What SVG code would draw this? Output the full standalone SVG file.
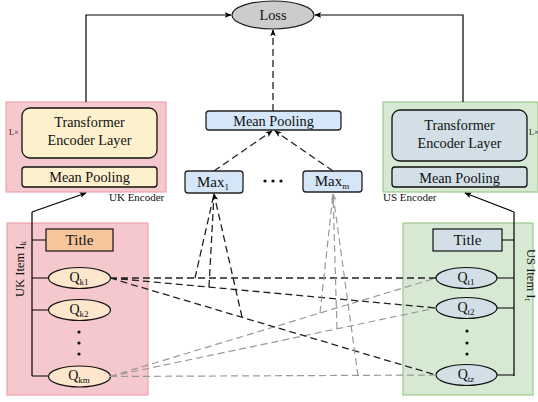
<svg xmlns="http://www.w3.org/2000/svg" width="538" height="402" viewBox="0 0 538 402" font-family="'Liberation Serif', 'DejaVu Serif', serif">
<defs>
<marker id="ab" viewBox="0 0 10 10" refX="9" refY="5" markerWidth="7" markerHeight="7" orient="auto" markerUnits="userSpaceOnUse"><path d="M0,1 L10,5 L0,9 L2.5,5 Z" fill="#000"/></marker>
<marker id="ag" viewBox="0 0 10 10" refX="9" refY="5" markerWidth="7" markerHeight="7" orient="auto" markerUnits="userSpaceOnUse"><path d="M0,1 L10,5 L0,9 L2.5,5 Z" fill="#999"/></marker>
</defs>
<style>
text{font-family:'Liberation Serif','DejaVu Serif',serif;fill:#111;}
.t14{font-size:14.2px;text-anchor:middle;}
.mp{font-size:14.3px;text-anchor:middle;}
.t11{font-size:11px;}
.sub{font-size:9px;}
.q{font-size:14px;text-anchor:middle;}
.ln{fill:none;stroke:#000;stroke-width:1.2;}
.db{fill:none;stroke:#222;stroke-width:1.3;stroke-dasharray:7 4;}
.dg{fill:none;stroke:#999;stroke-width:1.2;stroke-dasharray:7 4;}
.pink{fill:#f4c8cc;stroke:#eba3aa;stroke-width:1.2;}
.green{fill:#d6e9d3;stroke:#9cc98a;stroke-width:1.2;}
.yel{fill:#fdf0cd;stroke:#111;stroke-width:1.3;}
.bg{fill:#d2dfe6;stroke:#111;stroke-width:1.3;}
.blue{fill:#d4e6f8;stroke:#222;stroke-width:1.3;}
.orn{fill:#f7c59b;stroke:#111;stroke-width:1.2;}
.eu{fill:#fde6cc;stroke:#111;stroke-width:1.2;}
.es{fill:#d2dfe6;stroke:#111;stroke-width:1.2;}
</style>

<g id="uk-encoder">
<rect class="pink" x="6" y="102" width="160" height="90"/>
<rect class="yel" x="22" y="108" width="135" height="50" rx="8"/>
<text class="t14" x="89.5" y="127">Transformer</text>
<text class="t14" x="89.5" y="145">Encoder Layer</text>
<rect class="yel" x="22" y="167" width="135" height="20" rx="3"/>
<text class="mp" x="89.5" y="182">Mean Pooling</text>
<text x="9" y="135" style="font-size:8px">L×</text>
<text class="t11" x="109" y="201">UK Encoder</text>
</g>

<g id="us-encoder">
<rect class="green" x="383" y="102" width="155" height="90"/>
<rect class="bg" x="392" y="110" width="135" height="51" rx="8"/>
<text class="t14" x="459.5" y="130">Transformer</text>
<text class="t14" x="459.5" y="148">Encoder Layer</text>
<rect class="bg" x="392" y="167" width="135" height="20" rx="3"/>
<text class="mp" x="459.5" y="182.5">Mean Pooling</text>
<text x="529" y="135" style="font-size:8px">L×</text>
<text class="t11" x="383" y="201">US Encoder</text>
</g>

<g id="loss">
<ellipse cx="273" cy="15" rx="41" ry="14" fill="#cccccc" stroke="#222" stroke-width="1.2"/>
<text class="mp" x="273" y="20">Loss</text>
</g>

<g id="mean-pooling">
<rect class="blue" x="206" y="111" width="135" height="19" rx="3"/>
<text class="mp" x="273.5" y="125.5">Mean Pooling</text>
</g>

<g id="max1">
<rect class="blue" x="185" y="171" width="58" height="22" rx="3"/>
<text x="213" y="187" style="font-size:15px;text-anchor:middle">Max<tspan class="sub" dy="3">1</tspan></text>
</g>
<g id="maxm">
<rect class="blue" x="303" y="171" width="59" height="21" rx="3"/>
<text x="332" y="186" style="font-size:15px;text-anchor:middle">Max<tspan class="sub" dy="3">m</tspan></text>
</g>
<g id="ellipsis">
<circle cx="265" cy="181" r="1.6" fill="#111"/>
<circle cx="273" cy="181" r="1.6" fill="#111"/>
<circle cx="281" cy="181" r="1.6" fill="#111"/>
</g>

<g id="uk-item">
<rect class="pink" x="7" y="223" width="141" height="172"/>
<text transform="translate(24,269) rotate(-90)" style="font-size:12.5px;text-anchor:middle">UK Item I<tspan class="sub" dy="2">k</tspan></text>
<path class="ln" d="M32,212 V376 M32,240 H46 M32,278 H48 M32,310 H48 M32,376 H48"/>
<rect class="orn" x="46" y="229" width="67" height="22"/>
<text x="79.5" y="245" style="font-size:15px;text-anchor:middle">Title</text>
<g id="qk1"><ellipse class="eu" cx="79.5" cy="278" rx="31" ry="10.5"/><text class="q" x="79" y="282">Q<tspan class="sub" dy="3">k1</tspan></text></g>
<g id="qk2"><ellipse class="eu" cx="79.5" cy="310" rx="31" ry="10.5"/><text class="q" x="79" y="314">Q<tspan class="sub" dy="3">k2</tspan></text></g>
<circle cx="79" cy="332" r="1.6" fill="#111"/>
<circle cx="79" cy="343" r="1.6" fill="#111"/>
<circle cx="79" cy="354" r="1.6" fill="#111"/>
<g id="qkm"><ellipse class="eu" cx="79.5" cy="376.5" rx="31" ry="10.5"/><text class="q" x="79" y="380">Q<tspan class="sub" dy="3">km</tspan></text></g>
</g>

<g id="us-item">
<rect class="green" x="403" y="223" width="130" height="172"/>
<text transform="translate(527,275) rotate(90)" style="font-size:12.5px;text-anchor:middle">US Item I<tspan class="sub" dy="2">t</tspan></text>
<path class="ln" d="M514,212 V376 M514,240 H502 M514,278 H497 M514,308 H497 M514,375 H497"/>
<rect class="bg" x="433" y="229" width="69" height="22" style="stroke-width:1.2"/>
<text x="467.5" y="245" style="font-size:15px;text-anchor:middle">Title</text>
<g id="qt1"><ellipse class="es" cx="466.5" cy="278" rx="30.5" ry="10.5"/><text class="q" x="466" y="282">Q<tspan class="sub" dy="3">t1</tspan></text></g>
<g id="qt2"><ellipse class="es" cx="466.5" cy="308" rx="30.5" ry="10.5"/><text class="q" x="466" y="312">Q<tspan class="sub" dy="3">t2</tspan></text></g>
<circle cx="467" cy="331" r="1.6" fill="#111"/>
<circle cx="467" cy="343" r="1.6" fill="#111"/>
<circle cx="467" cy="354" r="1.6" fill="#111"/>
<g id="qtz"><ellipse class="es" cx="466.5" cy="375" rx="30.5" ry="10.5"/><text class="q" x="466" y="379">Q<tspan class="sub" dy="3">tz</tspan></text></g>
</g>

<g id="connectors">
<path class="ln" d="M86,102 V15 H231" marker-end="url(#ab)"/>
<path class="ln" d="M463,102 V15 H315" marker-end="url(#ab)"/>
<path class="ln" d="M32,212 L86,193" marker-end="url(#ab)"/>
<path class="ln" d="M514,212 L465,193" marker-end="url(#ab)"/>
<path class="db" d="M273,111 V30" marker-end="url(#ab)"/>
<path class="db" d="M214,171 L272,131" marker-end="url(#ab)"/>
<path class="db" d="M333,171 L275,131" marker-end="url(#ab)"/>
<path class="dg" d="M110,376.5 L436,278 M110,376.5 L436,308 M110,376.5 L436,375"/>
<path class="db" d="M110,278 L436,278 M110,278 L436,308 M110,278 L436,375"/>
<path class="db" d="M195,278 L214,194 M209,287 L214,194 M242,317 L214,194" marker-end="url(#ab)"/>
<path class="dg" d="M320,313 L333,194 M337,329 L333,194 M358,376 L333,194" marker-end="url(#ag)"/>
</g>
</svg>
